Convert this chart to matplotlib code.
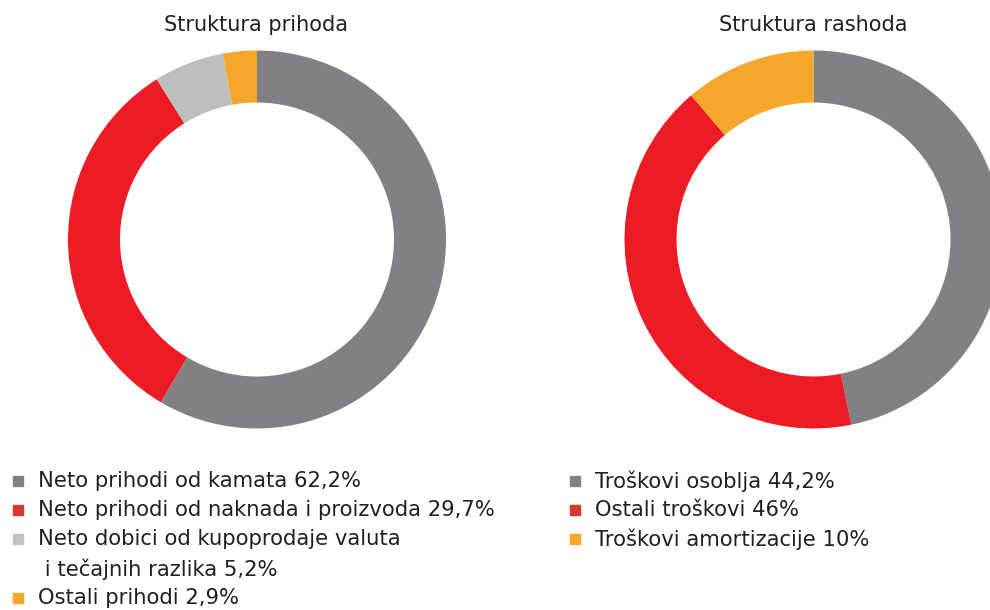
import matplotlib
matplotlib.use('Agg')
import matplotlib.pyplot as plt
from matplotlib.patches import Rectangle

# udjeli kako su nacrtani na grafu (ocitano s kruga)
PRIHODI = [58.5, 32.6, 6.0, 2.9]
RASHODI = [46.8, 42.0, 11.2]

BOJE_PRIHODI = ['#808184', '#ED1C24', '#BCBEC0', '#F5A72C']
BOJE_RASHODI = ['#808184', '#ED1C24', '#F5A72C']
BOJE_LEG_PRIHODI = ['#808184', '#D6392F', '#C2C3C6', '#F5A72C']
BOJE_LEG_RASHODI = ['#808184', '#D6392F', '#F5A72C']

LEG_PRIHODI = ['Neto prihodi od kamata 62,2%',
               'Neto prihodi od naknada i proizvoda 29,7%',
               'Neto dobici od kupoprodaje valuta',
               'Ostali prihodi 2,9%']
LEG_PRIHODI_NASTAVAK = ' i tečajnih razlika 5,2%'
LEG_RASHODI = ['Troškovi osoblja 44,2%',
               'Ostali troškovi 46%',
               'Troškovi amortizacije 10%']

W, H = 990, 610
TEXT = '#231F20'
plt.rcParams['font.family'] = ['DejaVu Sans']

fig = plt.figure(figsize=(9.9, 6.1), dpi=100)


def donut(cx, cy, vals, boje):
    r = 190
    ax = fig.add_axes([(cx - r) / W, (H - cy - r) / H, 2 * r / W, 2 * r / H])
    ax.pie(vals, colors=boje, startangle=90, counterclock=False, radius=189 / 190,
           wedgeprops=dict(width=52 / 190, linewidth=0))
    ax.set_xlim(-1, 1)
    ax.set_ylim(-1, 1)
    ax.set_aspect('equal')
    ax.axis('off')


donut(257, 239.5, PRIHODI, BOJE_PRIHODI)
donut(813.5, 239.5, RASHODI, BOJE_RASHODI)

fig.text(256 / W, 1 - 25 / H, 'Struktura prihoda', ha='center', va='center', fontsize=15, color=TEXT)
fig.text(813 / W, 1 - 25 / H, 'Struktura rashoda', ha='center', va='center', fontsize=15, color=TEXT)


def legenda(x_sq, x_txt, ys, labele, boje):
    for y, lab, c in zip(ys, labele, boje):
        fig.patches.append(Rectangle((x_sq / W, 1 - (y + 5) / H), 10 / W, 10 / H,
                                     transform=fig.transFigure, color=c, figure=fig))
        fig.text(x_txt / W, 1 - y / H, lab, ha='left', va='center', fontsize=15.2, color=TEXT)


legenda(13, 38, [481, 510, 539, 598], LEG_PRIHODI, BOJE_LEG_PRIHODI)
fig.text(38 / W, 1 - 569 / H, LEG_PRIHODI_NASTAVAK, ha='left', va='center', fontsize=15.2, color=TEXT)
legenda(570, 595, [481, 510, 539], LEG_RASHODI, BOJE_LEG_RASHODI)

plt.savefig('out.png', dpi=100)
